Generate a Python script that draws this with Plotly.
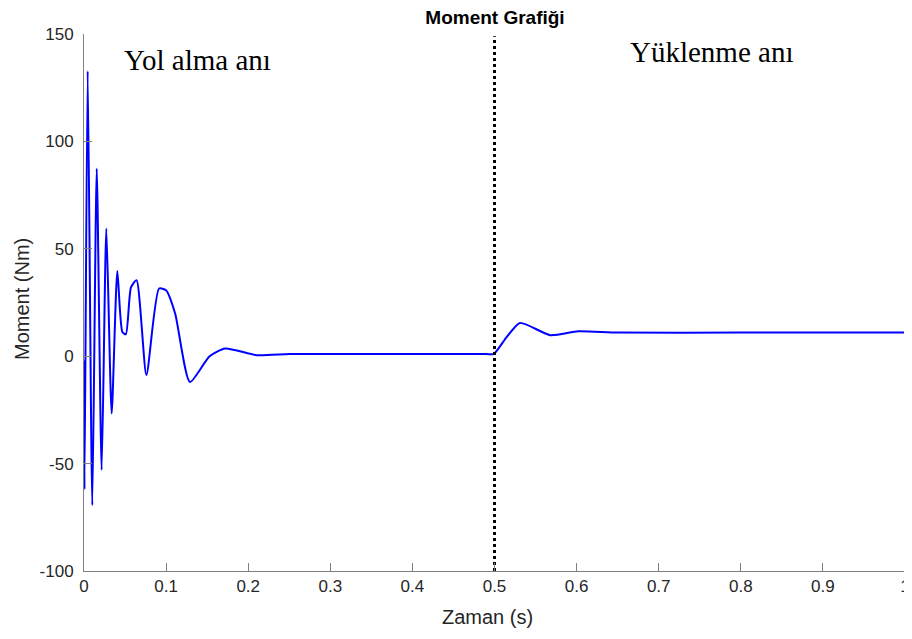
import plotly.graph_objects as go

# Values
zaman = [0.0, 0.0006, 0.0045, 0.0101, 0.0155, 0.0215, 0.0272, 0.0337, 0.0406, 0.0467,
         0.051, 0.0572, 0.064, 0.076, 0.0914, 0.0999, 0.111, 0.129, 0.153, 0.172,
         0.21, 0.25, 0.3, 0.4, 0.49, 0.499, 0.515, 0.531, 0.568, 0.602, 0.65, 0.8, 1.0]
moment = [-2, -62, 132.8, -69.4, 87.4, -53, 59.4, -26.7, 39.7, 11.3,
          10.2, 32, 35.4, -8.8, 31.5, 30.7, 19.9, -12, 0, 3.6,
          0.5, 1.0, 1.0, 1.0, 1.0, 1.0, 9.0, 15.5, 9.8, 11.6, 11.0, 11.0, 11.0]

x_ticks = [0, 0.1, 0.2, 0.3, 0.4, 0.5, 0.6, 0.7, 0.8, 0.9, 1]
x_labels = ["0", "0.1", "0.2", "0.3", "0.4", "0.5", "0.6", "0.7", "0.8", "0.9", "1"]
y_ticks = [-100, -50, 0, 50, 100, 150]
y_labels = ["-100", "-50", "0", "50", "100", "150"]

t_yuk = 0.5

fig = go.Figure()

fig.add_trace(go.Scatter(
    x=zaman, y=moment, mode='lines',
    line=dict(color='#0000ff', width=2, shape='spline', smoothing=0.6),
    showlegend=False,
))

# Vertical dotted marker at load moment
fig.add_trace(go.Scatter(
    x=[t_yuk, t_yuk], y=[-100, 149], mode='lines',
    line=dict(color='black', width=3, dash='dot'),
    showlegend=False,
))

sans = 'Liberation Sans, Arial'
serif = 'Liberation Serif, Times New Roman'
axis_font = dict(family=sans, size=17, color='#262626')

# page body has an 8px margin, so the figure is a bit smaller and shifted
fig.update_layout(
    width=904, height=631,
    plot_bgcolor='white', paper_bgcolor='white',
    margin=dict(l=76, r=7, t=26, b=68, autoexpand=False),
    title=dict(text='<b>Moment Grafiği</b>', x=0.5387, xanchor='center', y=0.9857,
               yanchor='middle', font=dict(family=sans, size=19, color='black')),
    annotations=[
        dict(x=0.138, y=138, text='Yol alma anı', showarrow=False,
             font=dict(family=serif, size=29, color='black')),
        dict(x=0.764, y=141.5, text='Yüklenme anı', showarrow=False,
             font=dict(family=serif, size=29, color='black')),
        dict(x=0.492, y=-0.085, xref='paper', yref='paper', text='Zaman (s)',
             showarrow=False, xanchor='center', yanchor='middle',
             font=dict(family=sans, size=20, color='#262626')),
        dict(x=-0.0755, y=0.5065, xref='paper', yref='paper', text='Moment (Nm)',
             showarrow=False, xanchor='center', yanchor='middle', textangle=-90,
             font=dict(family=sans, size=20, color='#262626')),
    ],
)

fig.update_xaxes(
    range=[0, 1.000001], tickvals=x_ticks, ticktext=x_labels, automargin=False,
    showgrid=False, zeroline=False, showline=True, linecolor='#808080', linewidth=1,
    ticks='inside', ticklen=8, tickcolor='#808080', tickfont=axis_font,
    ticklabeloverflow='allow',
)
fig.update_yaxes(
    range=[-100, 150], tickvals=y_ticks, ticktext=y_labels, automargin=False,
    showgrid=False, zeroline=False, showline=True, linecolor='#808080', linewidth=1,
    ticks='inside', ticklen=8, tickcolor='#808080', tickfont=axis_font,
    ticklabelstandoff=6,
)

fig.write_html("out.html")
